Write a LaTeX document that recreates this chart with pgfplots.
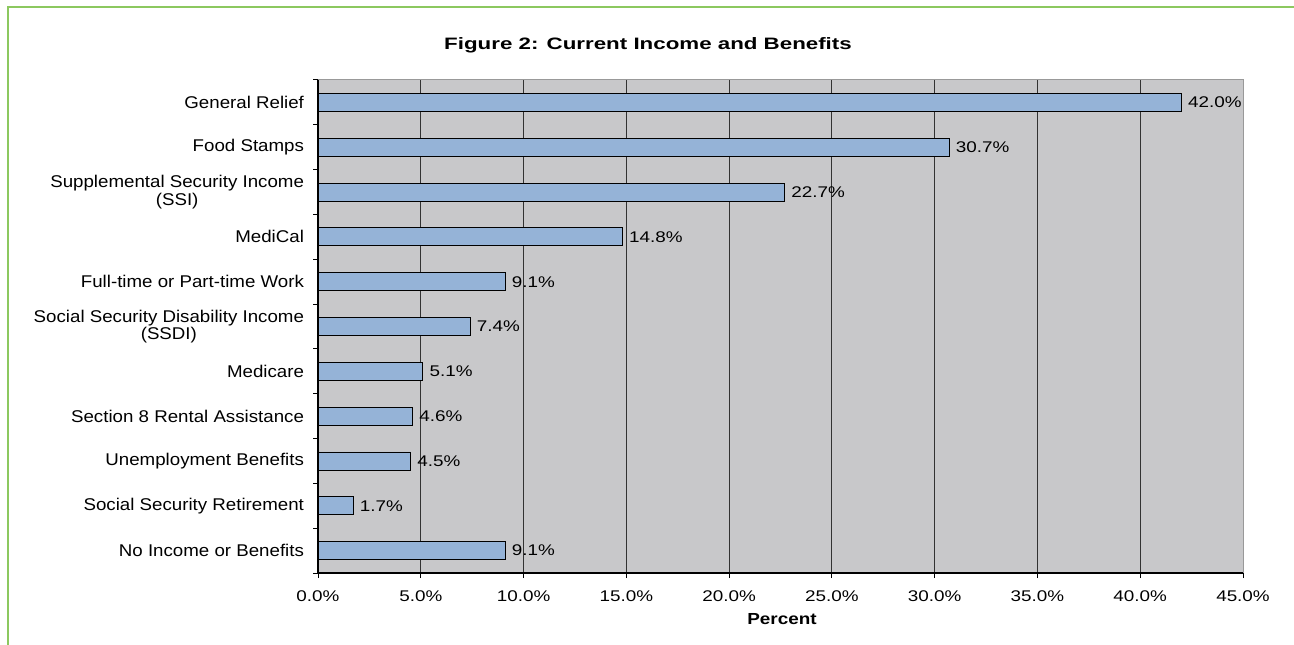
\documentclass[border=0pt]{standalone}
\usepackage{pgfplots}
\pgfplotsset{compat=1.18}
\usepackage{fontspec}
\setmainfont{Liberation Sans}
\newfontfamily\lblfont{Liberation Sans}[FakeStretch=1.1]
\newfontfamily\tkfont{Liberation Sans}[FakeStretch=1.22]
\newfontfamily\ttlfont{Liberation Sans}[FakeStretch=1.35]
\newfontfamily\pctfont{Liberation Sans}[FakeStretch=1.18]
\definecolor{plotgray}{RGB}{200,200,202}
\definecolor{barblue}{RGB}{149,179,215}
\definecolor{framegreen}{RGB}{140,200,95}
\definecolor{gridc}{RGB}{50,50,50}
\pgfplotstableread{
y val
0 42.0
1 30.7
2 22.7
3 14.8
4 9.1
5 7.4
6 5.1
7 4.6
8 4.5
9 1.7
10 9.1
}\datatab
\begin{document}
\begin{tikzpicture}[x=0.75pt,y=0.75pt]
\path[use as bounding box] (0,0) rectangle (1294,645);
\draw[framegreen,line width=1.6pt] (8,0) -- (8,638) -- (1294,638);
\begin{axis}[
  at={(238.5pt,54pt)}, anchor=south west,
  scale only axis, width=693.75pt, height=369.75pt,
  /pgf/number format/assume math mode=true,
  xmin=0, xmax=45, ymin=-0.5, ymax=10.5, y dir=reverse,
  xtick={0,5,...,45},
  xticklabel={\tkfont\fontsize{11.6}{13}\selectfont\pgfmathprintnumber[fixed,fixed zerofill,precision=1]{\tick}\%},
  ytick={0,...,10},
  yticklabels={General Relief,Food Stamps,{Supplemental Security Income\\(SSI)},MediCal,Full-time or Part-time Work,{Social Security Disability Income\\(SSDI)},Medicare,Section 8 Rental Assistance,Unemployment Benefits,Social Security Retirement,No Income or Benefits},
  yticklabel style={font=\lblfont\fontsize{12.75}{10.5}\selectfont, align=center, anchor=east, xshift=-7pt},
  xticklabel style={yshift=-10pt},
  minor ytick={-0.5,0.5,...,10.5},
  xtick pos=bottom, ytick pos=left,
  major tick length=0pt,
  minor tick length=3.75pt,
  tick align=outside,
  extra x ticks={0,5,...,45}, extra x tick labels={},
  extra x tick style={major tick length=3.75pt, grid=none, tick style={black}},
  xmajorgrids, major grid style={gridc, line width=0.75pt},
  axis line style={draw=gray!80, line width=0.75pt},
  tick style={black, line width=0.75pt},
  axis background/.style={fill=plotgray},
  xbar, bar width=0.4,
  point meta=x,
  nodes near coords={\tkfont\fontsize{11.6}{13}\selectfont\pgfmathprintnumber[fixed,fixed zerofill,precision=1]{\pgfplotspointmeta}\%},
  nodes near coords style={anchor=west, xshift=1.5pt, text=black},
  clip=false,
]
\addplot[fill=barblue, draw=black, line width=0.6pt] table[x=val,y=y] {\datatab};
\draw[black, line width=0.9pt] (rel axis cs:0,0) -- (rel axis cs:0,1);
\draw[black, line width=0.9pt] (rel axis cs:0,0) -- (rel axis cs:1,0);
\end{axis}
\node[font=\ttlfont\bfseries\fontsize{12.4}{14}\selectfont] at (648,600) {Figure 2: Current Income and Benefits};
\node[font=\pctfont\bfseries\fontsize{12}{14}\selectfont] at (782,26) {Percent};
\end{tikzpicture}
\end{document}
